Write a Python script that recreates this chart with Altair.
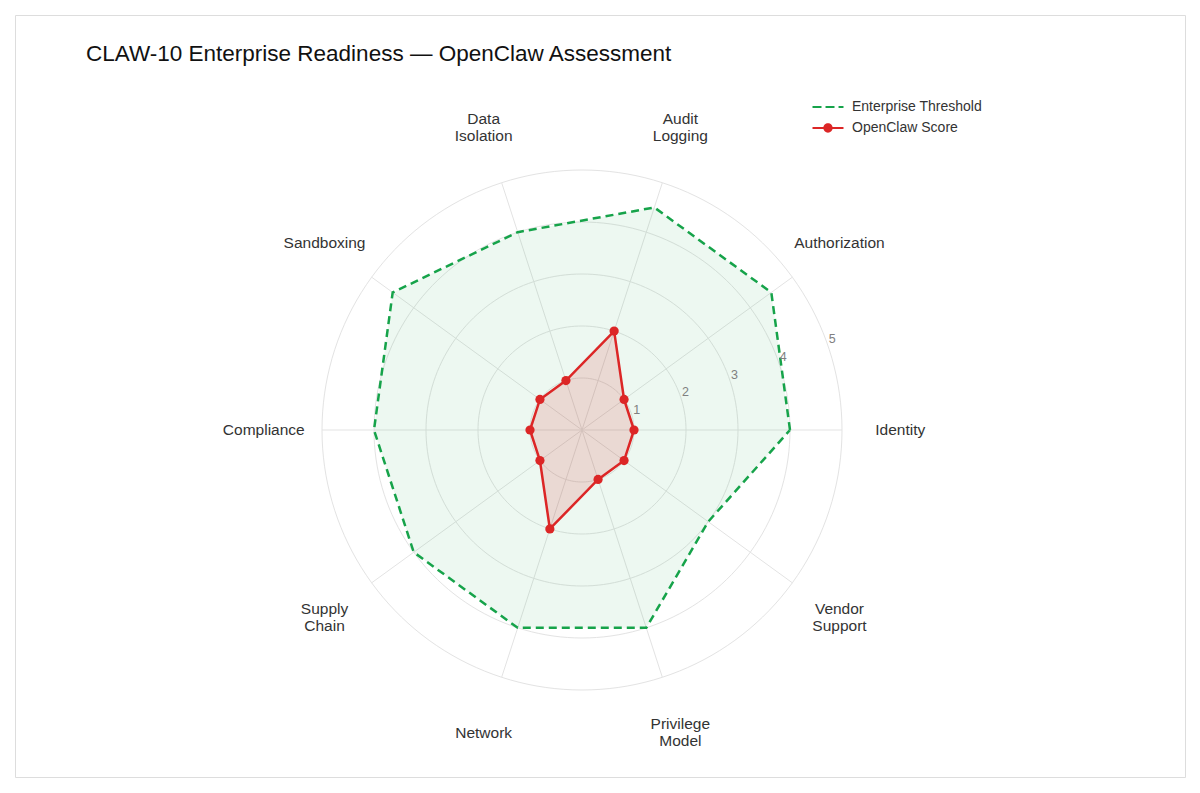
import math
import altair as alt
import pandas as pd

# ---- data ----
categories = ["Identity", "Authorization", "Audit Logging", "Data Isolation", "Sandboxing",
              "Compliance", "Supply Chain", "Network", "Privilege Model", "Vendor Support"]
threshold = [4, 4.5, 4.5, 4, 4.5, 4, 4, 4, 4, 3]
score = [1, 1, 2, 1, 1, 1, 1, 2, 1, 1]
ring_ticks = [1, 2, 3, 4, 5]
series_names = ["Enterprise Threshold", "OpenClaw Score"]

N = len(categories)
GREEN = "#16a34a"
RED = "#dc2626"
FONT = "Liberation Sans"
LINE_H = 17

# polygon table (closed)
poly = pd.DataFrame({
    "cat": categories + [categories[0]],
    "idx": list(range(N)) + [N],
    "threshold": threshold + [threshold[0]],
    "score": score + [score[0]],
})
cats = pd.DataFrame({
    "cat": categories,
    "label": [c.replace(" ", "\n") for c in categories],
    "idx": list(range(N)),
})
ring_rows = []
for r in ring_ticks:
    for d in range(0, 361, 2):
        ring_rows.append({"ring": r, "deg": d})
rings = pd.DataFrame(ring_rows)
ticks = pd.DataFrame({"ring": ring_ticks})
legend_df = pd.DataFrame({"series": series_names})

# ---- scales (view 1170x762, center at 567,415, 52px per unit) ----
W, H = 1170, 762
CX, CY, UNIT = 567, 415, 52.0
xs = alt.Scale(domain=[-CX / UNIT, (W - CX) / UNIT], nice=False, zero=False)
ys = alt.Scale(domain=[-(H - CY) / UNIT, CY / UNIT], nice=False, zero=False)

def X(f):
    return alt.X(f, type="quantitative", scale=xs, axis=None)

def Y(f):
    return alt.Y(f, type="quantitative", scale=ys, axis=None)

ang = f"datum.idx * 2 * PI / {N}"

grid_rings = alt.Chart(rings).transform_calculate(
    gx="datum.ring * cos(datum.deg * PI / 180)",
    gy="datum.ring * sin(datum.deg * PI / 180)",
).mark_line(color="#e3e3e3", strokeWidth=1).encode(
    x=X("gx"), y=Y("gy"), detail="ring:N", order="deg:Q")

spokes = alt.Chart(cats).transform_calculate(
    x0="0", y0="0",
    sx=f"5 * cos({ang})", sy=f"5 * sin({ang})",
).mark_rule(color="#e3e3e3", strokeWidth=1).encode(
    x=X("x0"), y=Y("y0"), x2="sx:Q", y2="sy:Q")

base_poly = alt.Chart(poly).transform_calculate(
    tx=f"datum.threshold * cos({ang})", ty=f"datum.threshold * sin({ang})",
    sx=f"datum.score * cos({ang})", sy=f"datum.score * sin({ang})",
)

thr_fill = base_poly.mark_line(fill=GREEN, fillOpacity=0.08, strokeWidth=0).encode(
    x=X("tx"), y=Y("ty"), order="idx:Q")
thr_line = base_poly.mark_line(color=GREEN, strokeWidth=2.5, strokeDash=[8, 5]).encode(
    x=X("tx"), y=Y("ty"), order="idx:Q")

sc_fill = base_poly.mark_line(fill=RED, fillOpacity=0.15, strokeWidth=0).encode(
    x=X("sx"), y=Y("sy"), order="idx:Q")
sc_line = base_poly.mark_line(color=RED, strokeWidth=2.5).encode(
    x=X("sx"), y=Y("sy"), order="idx:Q")
sc_pts = base_poly.transform_filter(f"datum.idx < {N}").mark_circle(
    color=RED, size=85, opacity=1).encode(x=X("sx"), y=Y("sy"))

# multi-line labels: lift the block by half a line so it is centred on its anchor
cat_labels = alt.Chart(cats).transform_calculate(
    lx=f"6.12 * cos({ang})",
    ly=f"6.12 * sin({ang}) + (indexof(datum.label, '\\n') >= 0 ? {LINE_H / 2 / UNIT} : 0)",
).mark_text(font=FONT, fontSize=15.5, color="#333333", lineBreak="\n",
            align="center", baseline="middle", lineHeight=LINE_H).encode(
    x=X("lx"), y=Y("ly"), text="label:N")

tick_labels = alt.Chart(ticks).transform_calculate(
    rx="(datum.ring + 0.12) * cos(20 * PI / 180)",
    ry="(datum.ring + 0.12) * sin(20 * PI / 180)",
).mark_text(font=FONT, fontSize=12.5, color="#808080", align="center", baseline="middle").encode(
    x=X("rx"), y=Y("ry"), text="ring:N")

dash_path = ("M-2,-0.13H-0.84V0.13H-2Z M-0.32,-0.13H0.84V0.13H-0.32Z M1.36,-0.13H2V0.13H1.36Z")
dot_path = ("M-2,-0.13H2V0.13H-2Z M0.6,0A0.6,0.6 0 1,1 -0.6,0A0.6,0.6 0 1,1 0.6,0Z")

leg = alt.Legend(title=None, orient="none", legendX=805, legendY=84,
                 symbolSize=240, symbolStrokeWidth=0, symbolOpacity=1, labelOffset=16,
                 rowPadding=6, labelFont=FONT, labelFontSize=14,
                 labelColor="#333333", padding=0)

legend_layer = alt.Chart(legend_df).transform_filter("false").mark_point(filled=True, opacity=1).encode(
    x=X("x0"), y=Y("y0"),
    color=alt.Color("series:N", scale=alt.Scale(domain=series_names, range=[GREEN, RED]), legend=leg),
    shape=alt.Shape("series:N", scale=alt.Scale(domain=series_names, range=[dash_path, dot_path]),
                    legend=leg),
).transform_calculate(x0="0", y0="0")

chart = alt.layer(
    grid_rings, spokes, thr_fill, sc_fill, thr_line, sc_line, sc_pts,
    cat_labels, tick_labels, legend_layer,
).properties(
    width=W, height=H,
    title=alt.TitleParams(
        "CLAW-10 Enterprise Readiness — OpenClaw Assessment",
        anchor="start", orient="top", offset=-68, dx=71, baseline="alphabetic",
        font=FONT, fontSize=22.5, fontWeight="normal", color="#111111",
    ),
    autosize=alt.AutoSizeParams(type="none"),
    padding={"left": 7, "top": 7, "right": 4, "bottom": 4},
).configure_view(
    stroke="#e2e2e2", strokeWidth=1.2, cornerRadius=10, fill="white",
).configure(background="white")

chart.save("out.html", embed_options={"renderer": "svg", "actions": False})
